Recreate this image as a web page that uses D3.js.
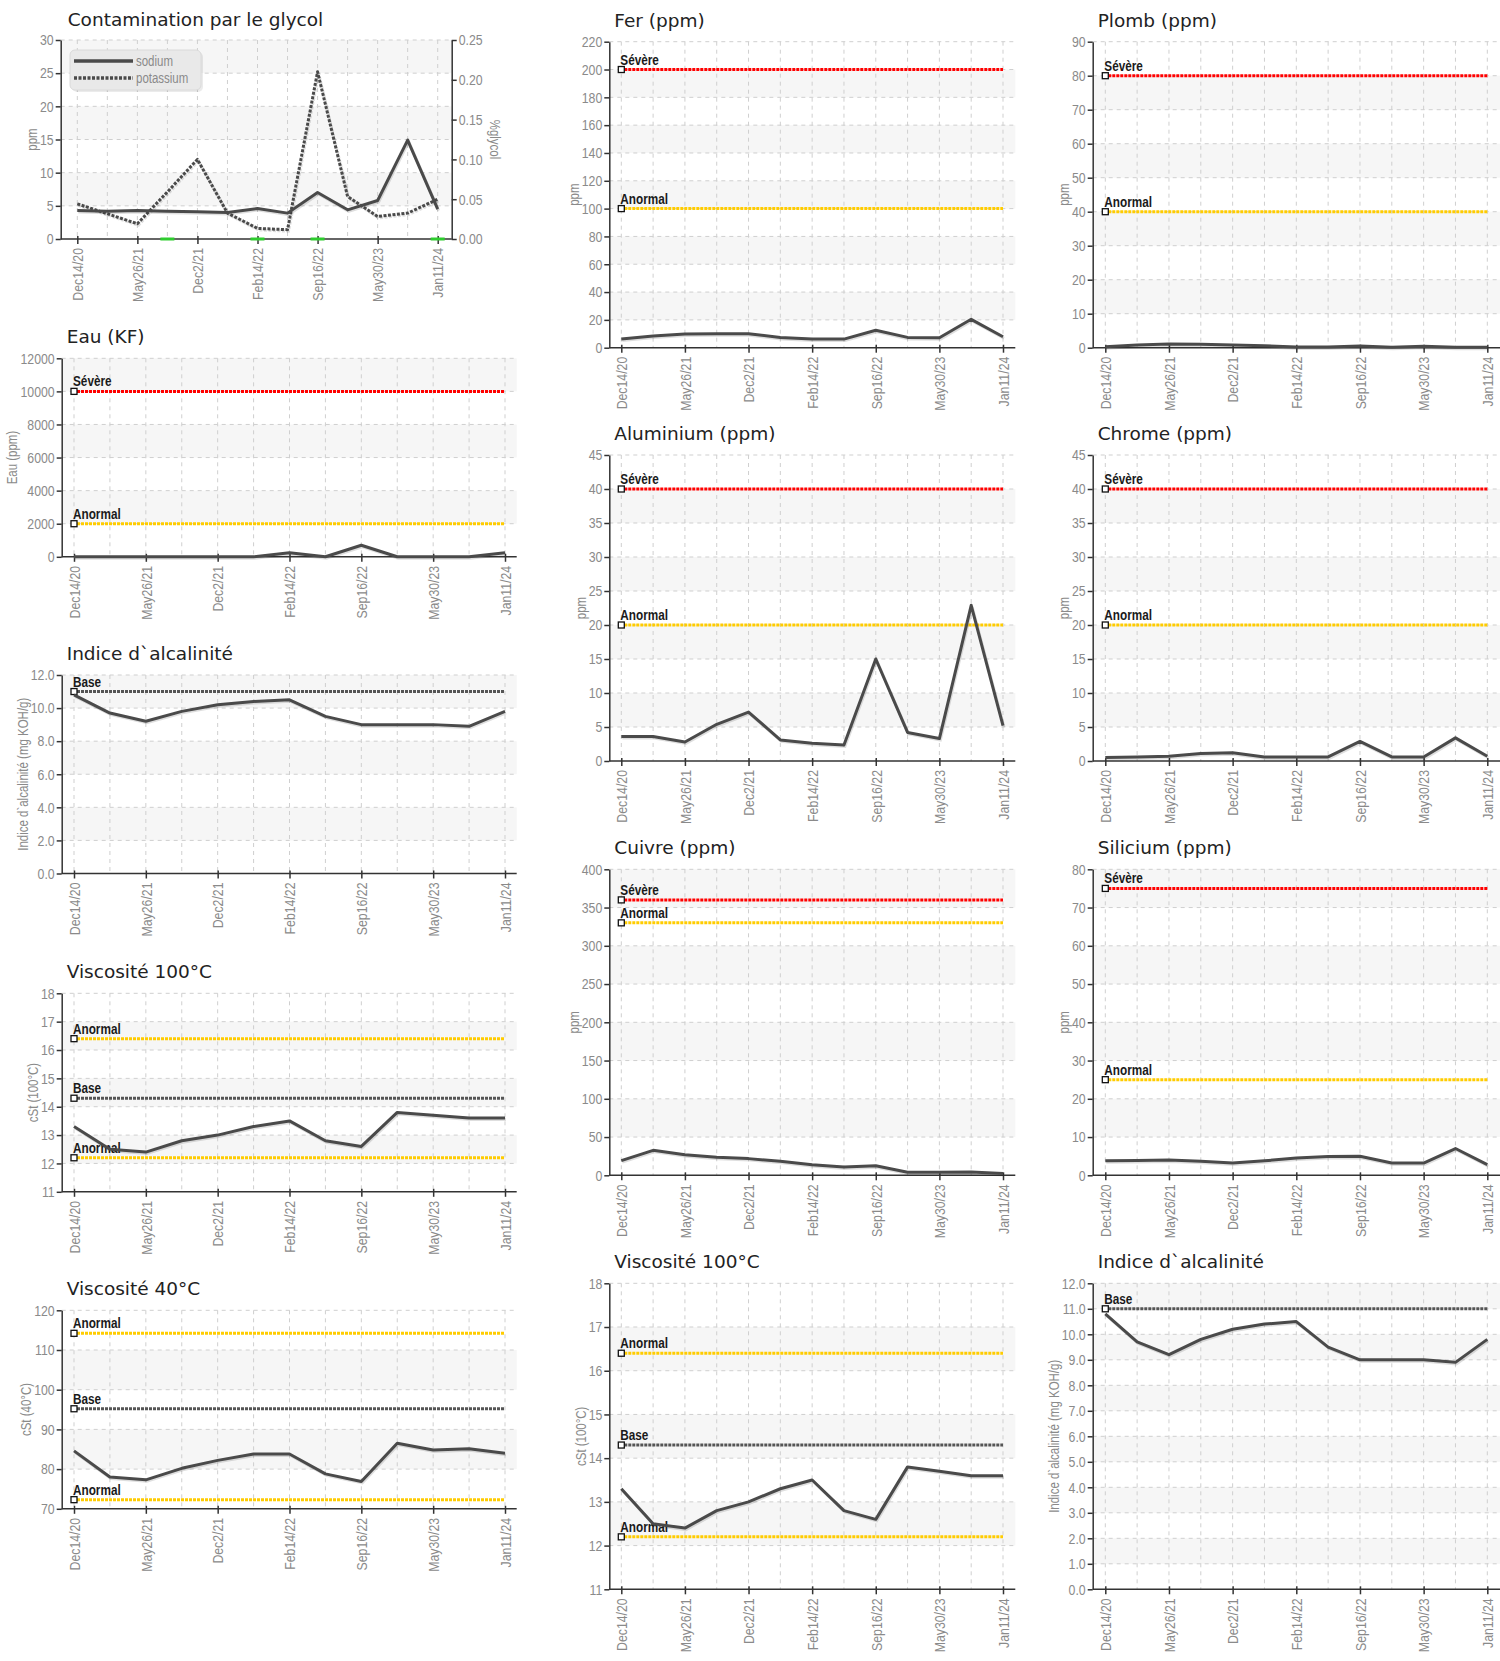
<!DOCTYPE html>
<html>
<head>
<meta charset="utf-8">
<script src="https://cdn.jsdelivr.net/npm/d3@7"></script>
<style>
  body { margin: 0; background: #fff; }
  .narrow { font-family: 'Liberation Sans', Arial, sans-serif; }
  .tick text { font-family: 'Liberation Sans', Arial, sans-serif; font-size: 15px; fill: #8a8a8a; }
  .axis path, .axis line { stroke: #333; stroke-width: 1.5; }
  .title { font-family: 'DejaVu Sans', Verdana, sans-serif; font-size: 18.5px; fill: #222; }
  .ylab { font-size: 14px; fill: #8a8a8a; }
  .limlab { font-size: 14px; font-weight: bold; fill: #1a1a1a; }
  .grid { stroke: #cfcfcf; stroke-width: 1; stroke-dasharray: 4,4; }
</style>
</head>
<body>
<svg id="chart" width="1500" height="1661"></svg>
<script>
// sample dates (only every second one is labelled on the axis)
const sampleDates = ['Dec14/20', '', 'May26/21', '', 'Dec2/21', '', 'Feb14/22', '', 'Sep16/22', '', 'May30/23', '', 'Jan11/24']

// series values, one per sample
const sodium    = [4.3, 4.2, 4.3, 4.2, 4.1, 4.0, 4.6, 3.9, 7.0, 4.4, 5.8, 14.9, 4.5]
const potassium = [5.3, 3.8, 2.3, 7.1, 12.0, 3.9, 1.6, 1.4, 25.2, 6.4, 3.4, 3.9, 6.0]
const glycolPct = [null, null, null, 0, null, null, 0, null, 0, null, null, null, 0]
const eau       = [0, 0, 0, 0, 0, 0, 250, 0, 700, 0, 0, 0, 240]
const alcalin   = [10.8, 9.7, 9.2, 9.8, 10.2, 10.4, 10.5, 9.5, 9.0, 9.0, 9.0, 8.9, 9.8]
const visc100   = [13.3, 12.5, 12.4, 12.8, 13.0, 13.3, 13.5, 12.8, 12.6, 13.8, 13.7, 13.6, 13.6]
const visc40    = [84.6, 78.0, 77.3, 80.2, 82.2, 83.8, 83.8, 78.8, 76.9, 86.5, 84.8, 85.1, 84.0]
const fer       = [6.2, 8.4, 9.8, 10, 10, 7.4, 6.2, 6.2, 12.5, 7.4, 7.2, 20.4, 7.9]
const plomb     = [0.3, 0.8, 1.1, 1.0, 0.8, 0.6, 0.2, 0.2, 0.5, 0.1, 0.4, 0.1, 0.1]
const aluminium = [3.6, 3.6, 2.8, 5.4, 7.2, 3.1, 2.6, 2.35, 15.0, 4.2, 3.3, 22.9, 5.2]
const chrome    = [0.5, 0.6, 0.7, 1.1, 1.2, 0.6, 0.6, 0.6, 2.9, 0.6, 0.6, 3.4, 0.7]
const cuivre    = [19.1, 32.6, 27, 23.5, 21.8, 18.3, 13.9, 10.9, 12.6, 3.9, 3.9, 4.4, 2.2]
const silicium  = [3.8, 3.9, 4.0, 3.7, 3.2, 3.8, 4.5, 4.9, 5.0, 3.2, 3.2, 7.0, 2.8]

// limit lines
const eauLimits      = [{ label: 'Sévère', value: 10000, kind: 'severe' }, { label: 'Anormal', value: 2000, kind: 'abnormal' }]
const alcalinLimits  = [{ label: 'Base', value: 11.0, kind: 'base' }]
const visc100Limits  = [{ label: 'Anormal', value: 16.4, kind: 'abnormal' }, { label: 'Base', value: 14.3, kind: 'base' }, { label: 'Anormal', value: 12.2, kind: 'abnormal' }]
const visc40Limits   = [{ label: 'Anormal', value: 114.2, kind: 'abnormal' }, { label: 'Base', value: 95.2, kind: 'base' }, { label: 'Anormal', value: 72.3, kind: 'abnormal' }]
const ferLimits      = [{ label: 'Sévère', value: 200, kind: 'severe' }, { label: 'Anormal', value: 100, kind: 'abnormal' }]
const plombLimits    = [{ label: 'Sévère', value: 80, kind: 'severe' }, { label: 'Anormal', value: 40, kind: 'abnormal' }]
const aluLimits      = [{ label: 'Sévère', value: 40, kind: 'severe' }, { label: 'Anormal', value: 20, kind: 'abnormal' }]
const chromeLimits   = [{ label: 'Sévère', value: 40, kind: 'severe' }, { label: 'Anormal', value: 20, kind: 'abnormal' }]
const cuivreLimits   = [{ label: 'Sévère', value: 360, kind: 'severe' }, { label: 'Anormal', value: 330, kind: 'abnormal' }]
const siliciumLimits = [{ label: 'Sévère', value: 75, kind: 'severe' }, { label: 'Anormal', value: 25, kind: 'abnormal' }]

const limitColor = { severe: '#ff0000', abnormal: '#ffcc00', base: '#555555' }

const svg = d3.select('#chart')

// column geometry
const colLeft  = { axis: 61.7, first: 74, last: 505, right: 516.7 }
const colMid   = { axis: 609.3, first: 621.3, last: 1003, right: 1015.3 }
const colRight = { axis: 1092.7, first: 1105.3, last: 1487.3, right: 1500 }
const smallH = 198.5, bigH = 306

const panels = [
  { col: colLeft, top: 358.3, h: smallH, title: 'Eau (KF)', yLabel: 'Eau (ppm)', domain: [0, 12000], step: 2000, fmt: d3.format('d'), values: eau, limits: eauLimits },
  { col: colLeft, top: 675, h: smallH, title: 'Indice d`alcalinité', yLabel: 'Indice d`alcalinité (mg KOH/g)', domain: [0, 12], step: 2, fmt: d3.format('.1f'), values: alcalin, limits: alcalinLimits },
  { col: colLeft, top: 993.3, h: smallH, title: 'Viscosité 100°C', yLabel: 'cSt (100°C)', domain: [11, 18], step: 1, fmt: d3.format('d'), values: visc100, limits: visc100Limits },
  { col: colLeft, top: 1310.3, h: smallH, title: 'Viscosité 40°C', yLabel: 'cSt (40°C)', domain: [70, 120], step: 10, fmt: d3.format('d'), values: visc40, limits: visc40Limits },
  { col: colMid, top: 41.7, h: bigH, title: 'Fer (ppm)', yLabel: 'ppm', domain: [0, 220], step: 20, fmt: d3.format('d'), values: fer, limits: ferLimits },
  { col: colMid, top: 455, h: bigH, title: 'Aluminium (ppm)', yLabel: 'ppm', domain: [0, 45], step: 5, fmt: d3.format('d'), values: aluminium, limits: aluLimits },
  { col: colMid, top: 869.3, h: bigH, title: 'Cuivre (ppm)', yLabel: 'ppm', domain: [0, 400], step: 50, fmt: d3.format('d'), values: cuivre, limits: cuivreLimits },
  { col: colMid, top: 1283.3, h: bigH, title: 'Viscosité 100°C', yLabel: 'cSt (100°C)', domain: [11, 18], step: 1, fmt: d3.format('d'), values: visc100, limits: visc100Limits },
  { col: colRight, top: 41.7, h: bigH, title: 'Plomb (ppm)', yLabel: 'ppm', domain: [0, 90], step: 10, fmt: d3.format('d'), values: plomb, limits: plombLimits },
  { col: colRight, top: 455, h: bigH, title: 'Chrome (ppm)', yLabel: 'ppm', domain: [0, 45], step: 5, fmt: d3.format('d'), values: chrome, limits: chromeLimits },
  { col: colRight, top: 869.3, h: bigH, title: 'Silicium (ppm)', yLabel: 'ppm', domain: [0, 80], step: 10, fmt: d3.format('d'), values: silicium, limits: siliciumLimits },
  { col: colRight, top: 1283.3, h: bigH, title: 'Indice d`alcalinité', yLabel: 'Indice d`alcalinité (mg KOH/g)', domain: [0, 12], step: 1, fmt: d3.format('.1f'), values: alcalin, limits: alcalinLimits }
]

panels.forEach(drawPanel)
drawGlycol()

// squeeze text horizontally (no narrow font installed)
function condense(sel, f = 0.82) {
  sel.each(function() {
    const w = this.getComputedTextLength()
    if (w > 0) d3.select(this).attr('textLength', w * f).attr('lengthAdjust', 'spacingAndGlyphs')
  })
}

function frame(g, col, top, bottom, domain, step, fmt, yLabel) {
  const x = d3.scalePoint().domain(d3.range(sampleDates.length)).range([col.first, col.last])
  const y = d3.scaleLinear().domain(domain).range([bottom, top])
  const ticks = d3.range(domain[0], domain[1] + step / 2, step)

  // alternating bands
  g.selectAll('rect.band')
    .data(d3.range(1, ticks.length - 1, 2))
    .enter().append('rect')
    .attr('class', 'band')
    .attr('x', col.axis)
    .attr('width', col.right - col.axis)
    .attr('y', i => y(ticks[i + 1]))
    .attr('height', i => y(ticks[i]) - y(ticks[i + 1]))
    .attr('fill', '#f6f6f6')

  g.selectAll('line.hgrid')
    .data(ticks.slice(1))
    .enter().append('line')
    .attr('class', 'grid hgrid')
    .attr('x1', col.axis).attr('x2', col.right)
    .attr('y1', y).attr('y2', y)

  g.selectAll('line.vgrid')
    .data(x.domain())
    .enter().append('line')
    .attr('class', 'grid vgrid')
    .attr('x1', x).attr('x2', x)
    .attr('y1', top).attr('y2', bottom)

  const yAxis = g.append('g')
    .attr('class', 'axis')
    .attr('transform', `translate(${col.axis},0)`)
    .call(d3.axisLeft(y).tickValues(ticks).tickFormat(fmt).tickSize(5).tickSizeOuter(0).tickPadding(2))
  yAxis.attr('font-size', null).attr('font-family', null)
  condense(yAxis.selectAll('.tick text'))

  const xAxis = g.append('g')
    .attr('class', 'axis')
    .attr('transform', `translate(0,${bottom})`)
    .call(d3.axisBottom(x).tickValues(x.domain().filter(i => sampleDates[i])).tickFormat(i => sampleDates[i]).tickSize(5).tickSizeOuter(0))
  xAxis.attr('font-size', null).attr('font-family', null)
  xAxis.select('.domain').remove()
  xAxis.selectAll('.tick line').attr('y1', -3)
  xAxis.selectAll('.tick text')
    .attr('transform', 'rotate(-90)')
    .attr('text-anchor', 'end')
    .attr('x', -9).attr('y', 0).attr('dy', '0.35em')
  condense(xAxis.selectAll('.tick text'))
  xAxis.append('line')
    .attr('x1', col.axis).attr('x2', col.right)
    .attr('y1', 0).attr('y2', 0)

  let maxw = 0
  yAxis.selectAll('.tick text').each(function() { maxw = Math.max(maxw, +this.getAttribute('textLength') || 0) })
  const cy = (top + bottom) / 2
  const lx = col.axis - maxw - 15
  const lab = g.append('text')
    .attr('class', 'narrow ylab')
    .attr('transform', `translate(${lx},${cy}) rotate(-90)`)
    .attr('text-anchor', 'middle')
    .attr('dy', '0.35em')
    .text(yLabel)
  condense(lab)

  return { x, y }
}

function seriesLine(g, x, y, values, dash) {
  const line = d3.line()
    .defined(v => v != null)
    .x((v, i) => x(i))
    .y(v => y(v))
  g.append('path')
    .attr('d', line(values))
    .attr('transform', 'translate(1,1.5)')
    .attr('fill', 'none')
    .attr('stroke', 'rgba(0,0,0,0.13)')
    .attr('stroke-width', 3)
    .attr('stroke-dasharray', dash)
  g.append('path')
    .attr('d', line(values))
    .attr('fill', 'none')
    .attr('stroke', '#4a4a4a')
    .attr('stroke-width', 3)
    .attr('stroke-linejoin', 'round')
    .attr('stroke-dasharray', dash)
}

function drawPanel(p) {
  const g = svg.append('g')
  const bottom = p.top + p.h
  const { x, y } = frame(g, p.col, p.top, bottom, p.domain, p.step, p.fmt, p.yLabel)
  const x0 = x(0), x1 = x(sampleDates.length - 1)

  g.append('text')
    .attr('class', 'title')
    .attr('x', p.col.axis + 5)
    .attr('y', p.top - 15)
    .text(p.title)

  const lim = g.selectAll('g.limit')
    .data(p.limits)
    .enter().append('g')
    .attr('class', 'limit')

  lim.append('line')
    .attr('x1', x0 + 3).attr('x2', x1)
    .attr('y1', d => y(d.value)).attr('y2', d => y(d.value))
    .attr('stroke', d => limitColor[d.kind])
    .attr('stroke-width', 3)
    .attr('stroke-dasharray', '3,1')

  seriesLine(g, x, y, p.values, null)

  lim.append('rect')
    .attr('x', x0 - 3).attr('y', d => y(d.value) - 3)
    .attr('width', 6).attr('height', 6)
    .attr('fill', '#fff').attr('stroke', '#111').attr('stroke-width', 1.3)

  const ll = lim.append('text')
    .attr('class', 'narrow limlab')
    .attr('x', x0 - 1)
    .attr('y', d => y(d.value) - 5)
    .text(d => d.label)
  condense(ll, 0.84)
}

function drawGlycol() {
  const g = svg.append('g')
  const col = { axis: 60.7, first: 77.3, last: 437.7, right: 451.7 }
  const top = 40, bottom = 239
  const { x, y } = frame(g, col, top, bottom, [0, 30], 5, d3.format('d'), 'ppm')

  const y2 = d3.scaleLinear().domain([0, 0.25]).range([bottom, top])
  const rAxis = g.append('g')
    .attr('class', 'axis')
    .attr('transform', `translate(${col.right},0)`)
    .call(d3.axisRight(y2).tickValues(d3.range(0, 0.2501, 0.05)).tickFormat(d3.format('.2f')).tickSize(5).tickSizeOuter(0).tickPadding(2))
  rAxis.attr('font-size', null).attr('font-family', null)
  condense(rAxis.selectAll('.tick text'))

  const rl = g.append('text')
    .attr('class', 'narrow ylab')
    .attr('transform', `translate(495,${(top + bottom) / 2}) rotate(90)`)
    .attr('text-anchor', 'middle')
    .attr('dy', '0.35em')
    .text('%glycol')
  condense(rl)

  g.append('text')
    .attr('class', 'title')
    .attr('x', col.axis + 7)
    .attr('y', top - 14)
    .text('Contamination par le glycol')

  seriesLine(g, x, y, potassium, '3,1.5')
  seriesLine(g, x, y, sodium, null)

  g.selectAll('line.glycol')
    .data(glycolPct.map((v, i) => ({ v, i })).filter(d => d.v != null))
    .enter().append('line')
    .attr('x1', d => x(d.i) - 7).attr('x2', d => x(d.i) + 7)
    .attr('y1', d => y2(d.v)).attr('y2', d => y2(d.v))
    .attr('stroke', '#2ecc2e').attr('stroke-width', 3)

  // legend
  const lg = g.append('g').attr('transform', 'translate(70,50)')
  lg.append('rect').attr('x', 2).attr('y', 2).attr('width', 131).attr('height', 40).attr('rx', 5)
    .attr('fill', 'rgba(0,0,0,0.08)')
  lg.append('rect').attr('width', 131).attr('height', 40).attr('rx', 5)
    .attr('fill', '#e9e9e9').attr('stroke', '#dadada')
  const items = [{ name: 'sodium', dash: null, y: 11 }, { name: 'potassium', dash: '3,1.5', y: 28 }]
  items.forEach(it => {
    lg.append('line').attr('x1', 4).attr('x2', 63).attr('y1', it.y).attr('y2', it.y)
      .attr('stroke', '#4a4a4a').attr('stroke-width', 3.5).attr('stroke-dasharray', it.dash)
    const t = lg.append('text').attr('class', 'narrow').attr('x', 66).attr('y', it.y).attr('dy', '0.35em')
      .attr('font-size', 14).attr('fill', '#8a8a8a').text(it.name)
    condense(t)
  })
}
</script>
</body>
</html>
